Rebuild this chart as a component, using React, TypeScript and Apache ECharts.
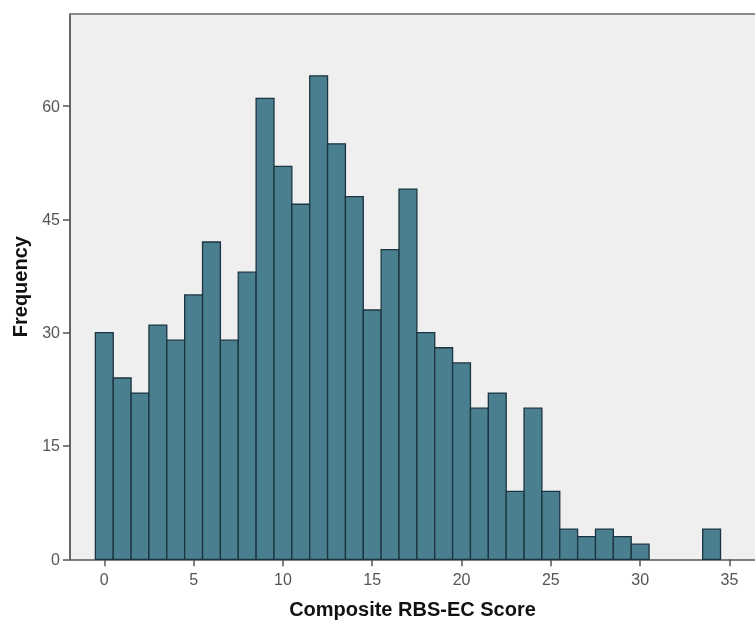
import React, { useEffect, useRef } from "react";
import * as echarts from "echarts";

const scores = [0,1,2,3,4,5,6,7,8,9,10,11,12,13,14,15,16,17,18,19,20,21,22,23,24,25,26,27,28,29,30,31,32,33,34];
const frequencies = [30,24,22,31,29,35,42,29,38,61,52,47,64,55,48,33,41,49,30,28,26,20,22,9,20,9,4,3,4,3,2,0,0,0,4];
const xTicks = [0,5,10,15,20,25,30,35];
const yTicks = [0,15,30,45,60];

export default function App() {
  const ref = useRef<HTMLDivElement>(null);
  useEffect(() => {
    if (!ref.current) return;
    const chart = echarts.init(ref.current, null, { renderer: "svg" });
    const data = scores.map((s, i) => [s, frequencies[i]]).filter((d) => d[1] > 0);
    const font = "Liberation Sans, Arial";
    chart.setOption({
      animation: false,
      grid: {
        left: 70,
        top: 14,
        right: 0,
        bottom: 60.7,
        outerBoundsMode: "none",
        containLabel: false,
        show: true,
        backgroundColor: "#EFEFEF",
        borderWidth: 0,
      },
      xAxis: [
        {
          type: "value",
          min: -1.92,
          max: 36.43,
          name: "Composite RBS-EC Score",
          nameLocation: "middle",
          nameGap: 40,
          nameTextStyle: { fontFamily: font, fontWeight: "bold", fontSize: 20, color: "#111" },
          splitLine: { show: false },
          axisLine: { show: true, onZero: false, lineStyle: { color: "#555", width: 1.5 } },
          axisTick: { show: true, length: 7, customValues: xTicks, lineStyle: { color: "#555", width: 1.5 } },
          axisLabel: { customValues: xTicks, fontFamily: font, fontSize: 16, color: "#555", margin: 12 },
        },
        {
          type: "value",
          position: "top",
          min: -1.92,
          max: 36.43,
          splitLine: { show: false },
          axisLine: { show: true, onZero: false, lineStyle: { color: "#8a8a8a", width: 2 } },
          axisTick: { show: false },
          axisLabel: { show: false },
        },
      ],
      yAxis: {
        type: "value",
        min: 0,
        max: 72.18,
        name: "Frequency",
        nameLocation: "middle",
        nameGap: 40,
        nameTextStyle: { fontFamily: font, fontWeight: "bold", fontSize: 20, color: "#111" },
        splitLine: { show: false },
        axisLine: { show: true, onZero: false, lineStyle: { color: "#666", width: 2 } },
        axisTick: { show: true, length: 7, customValues: yTicks, lineStyle: { color: "#555", width: 1.5 } },
        axisLabel: { customValues: yTicks, fontFamily: font, fontSize: 16, color: "#555", margin: 10 },
      },
      series: [
        {
          type: "custom",
          xAxisIndex: 0,
          data,
          renderItem: (params: any, api: any) => {
            const x = api.value(0);
            const y = api.value(1);
            const p0 = api.coord([x - 0.5, y]);
            const p1 = api.coord([x + 0.5, 0]);
            return {
              type: "rect",
              shape: { x: p0[0], y: p0[1], width: p1[0] - p0[0], height: p1[1] - p0[1] },
              style: { fill: "#4A7F90", stroke: "#1B3440", lineWidth: 1.3 },
            };
          },
        },
      ],
    });
    return () => chart.dispose();
  }, []);
  return <div ref={ref} style={{ position: "fixed", left: 0, top: 0, width: 755, height: 620 }} />;
}
